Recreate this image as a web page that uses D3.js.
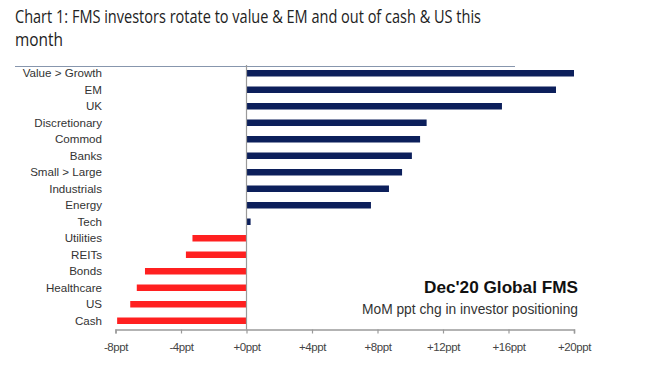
<!DOCTYPE html>
<html>
<head>
<meta charset="utf-8">
<script src="https://cdn.jsdelivr.net/npm/d3@7/dist/d3.min.js"></script>
<style>
  html, body { margin: 0; padding: 0; background: #fff; }
  svg { display: block; }
</style>
</head>
<body>
<svg id="chart" width="655" height="370"></svg>
<script>
const categories = ["Value > Growth", "EM", "UK", "Discretionary", "Commod", "Banks",
  "Small > Large", "Industrials", "Energy", "Tech", "Utilities", "REITs", "Bonds",
  "Healthcare", "US", "Cash"];
const values = [20.0, 18.9, 15.6, 11.0, 10.6, 10.1, 9.5, 8.7, 7.6, 0.25,
  -3.3, -3.7, -6.2, -6.7, -7.1, -7.9];
const tickValues = [-8, -4, 0, 4, 8, 12, 16, 20];
const tickLabels = ["-8ppt", "-4ppt", "+0ppt", "+4ppt", "+8ppt", "+12ppt", "+16ppt", "+20ppt"];
const titleLines = ["Chart 1: FMS investors rotate to value & EM and out of cash & US this", "month"];
const annotation = ["Dec'20 Global FMS", "MoM ppt chg in investor positioning"];

const svg = d3.select("#chart");
const navy = "#0c1f5b", red = "#ff2020", axisCol = "#9a9a9a";

// Title
svg.append("text").attr("x", 15).attr("y", 23)
  .attr("font-family", "'Open Sans', 'Noto Sans', sans-serif").attr("font-size", 17.5)
  .attr("fill", "#222").attr("textLength", 466).attr("lengthAdjust", "spacingAndGlyphs")
  .text(titleLines[0]);
svg.append("text").attr("x", 15).attr("y", 46)
  .attr("font-family", "'Open Sans', 'Noto Sans', sans-serif").attr("font-size", 17.5)
  .attr("fill", "#222").attr("textLength", 48).attr("lengthAdjust", "spacingAndGlyphs")
  .text(titleLines[1]);
svg.append("line").attr("x1", 15).attr("x2", 515).attr("y1", 66.5).attr("y2", 66.5)
  .attr("stroke", "#8796ad").attr("stroke-width", 1.2);

// Scales
const x = d3.scaleLinear().domain([-8, 20]).range([115.5, 574]);
const y = d3.scalePoint().domain(categories).range([65, 329]).padding(0.5);
const barH = 6.5;

// Bars
svg.append("g").selectAll("rect").data(categories).join("rect")
  .attr("x", (d, i) => Math.min(x(0), x(values[i])))
  .attr("width", (d, i) => Math.abs(x(values[i]) - x(0)))
  .attr("y", d => y(d) - barH / 2)
  .attr("height", barH)
  .attr("fill", (d, i) => values[i] >= 0 ? navy : red);

// Category labels
svg.append("g").selectAll("text").data(categories).join("text")
  .attr("x", 102).attr("y", d => y(d)).attr("dy", "0.35em")
  .attr("text-anchor", "end")
  .attr("font-family", "'Liberation Sans', Arial, sans-serif").attr("font-size", 11.6)
  .attr("fill", "#333").text(d => d);

// Vertical zero line
svg.append("line").attr("x1", x(0)).attr("x2", x(0)).attr("y1", 65).attr("y2", 329.5)
  .attr("stroke", axisCol).attr("stroke-width", 1.2);

// X axis
const xAxis = d3.axisBottom(x).tickValues(tickValues).tickSize(4).tickPadding(9)
  .tickFormat((d, i) => tickLabels[i]);
const gx = svg.append("g").attr("transform", "translate(0,329.5)").call(xAxis);
gx.select(".domain").attr("stroke", axisCol).attr("stroke-width", 1.5);
gx.selectAll(".tick line").attr("stroke", axisCol).attr("stroke-width", 1.2);
gx.selectAll(".tick text").attr("font-family", "'Liberation Sans', Arial, sans-serif")
  .attr("font-size", 11.5).attr("fill", "#444").attr("letter-spacing", "-0.4px");

// Annotation
svg.append("text").attr("x", 578).attr("y", 293).attr("text-anchor", "end")
  .attr("font-family", "'Liberation Sans', Arial, sans-serif").attr("font-size", 16.5)
  .attr("font-weight", "bold").attr("fill", "#111")
  .attr("textLength", 154).attr("lengthAdjust", "spacingAndGlyphs")
  .text(annotation[0]);
svg.append("text").attr("x", 578).attr("y", 313.5).attr("text-anchor", "end")
  .attr("font-family", "'Liberation Sans', Arial, sans-serif").attr("font-size", 14)
  .attr("fill", "#333")
  .attr("textLength", 216).attr("lengthAdjust", "spacingAndGlyphs")
  .text(annotation[1]);
</script>
</body>
</html>
